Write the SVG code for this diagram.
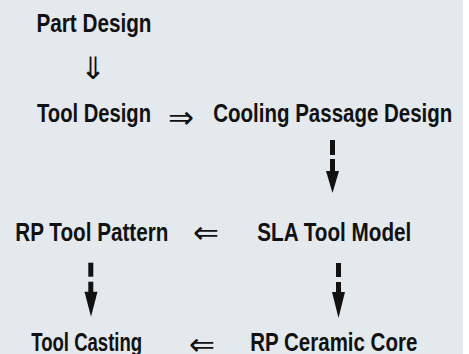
<svg xmlns="http://www.w3.org/2000/svg" width="469" height="354" viewBox="0 0 469 354">
<style>
.lbl{font-family:"Liberation Sans Narrow","Arial Narrow","Liberation Sans",sans-serif;font-weight:bold;font-size:25px;fill:#111}
.sym{font-family:"DejaVu Sans",sans-serif;font-weight:200;font-size:31px;fill:#111}
.arr{fill:#111}
</style>
<rect x="0" y="0" width="469" height="354" fill="#ffffff"/>
<rect x="0" y="0" width="463" height="354" fill="#e4e9ee"/>
<g id="part-design"><text class="lbl" x="36.5" y="31.5" textLength="115" lengthAdjust="spacingAndGlyphs">Part Design</text></g>
<g id="tool-design"><text class="lbl" x="37" y="121.7" textLength="114" lengthAdjust="spacingAndGlyphs">Tool Design</text></g>
<g id="cooling-passage-design"><text class="lbl" x="213.3" y="121.7" textLength="239" lengthAdjust="spacingAndGlyphs">Cooling Passage Design</text></g>
<g id="rp-tool-pattern"><text class="lbl" x="15.3" y="240.7" textLength="153" lengthAdjust="spacingAndGlyphs">RP Tool Pattern</text></g>
<g id="sla-tool-model"><text class="lbl" x="257.3" y="240.7" textLength="154" lengthAdjust="spacingAndGlyphs">SLA Tool Model</text></g>
<g id="tool-casting"><text class="lbl" x="31.2" y="351" textLength="111" lengthAdjust="spacingAndGlyphs">Tool Casting</text></g>
<g id="rp-ceramic-core"><text class="lbl" x="250.3" y="351" textLength="167" lengthAdjust="spacingAndGlyphs">RP Ceramic Core</text></g>
<g id="connectors">
<text class="sym" x="92.5" y="79" text-anchor="middle">⇓</text>
<text class="sym" x="180.5" y="127.5" text-anchor="middle">⇒</text>
<text class="sym" x="206" y="242.5" text-anchor="middle">⇐</text>
<text class="sym" x="202" y="355" text-anchor="middle" font-size="22">⇐</text>
<g class="arr">
<rect x="330" y="140" width="5" height="15"/>
<rect x="330" y="159" width="5" height="13"/>
<polygon points="326,171 339,171 332.5,193"/>
<rect x="88.3" y="262.7" width="5" height="14"/>
<rect x="88.3" y="281.7" width="5" height="11"/>
<polygon points="84.5,291.7 97.5,291.7 91,316.7"/>
<rect x="336" y="263" width="5" height="14"/>
<rect x="336" y="282" width="5" height="11"/>
<polygon points="332,292 345,292 338.5,318"/>
</g>
</g>
</svg>
